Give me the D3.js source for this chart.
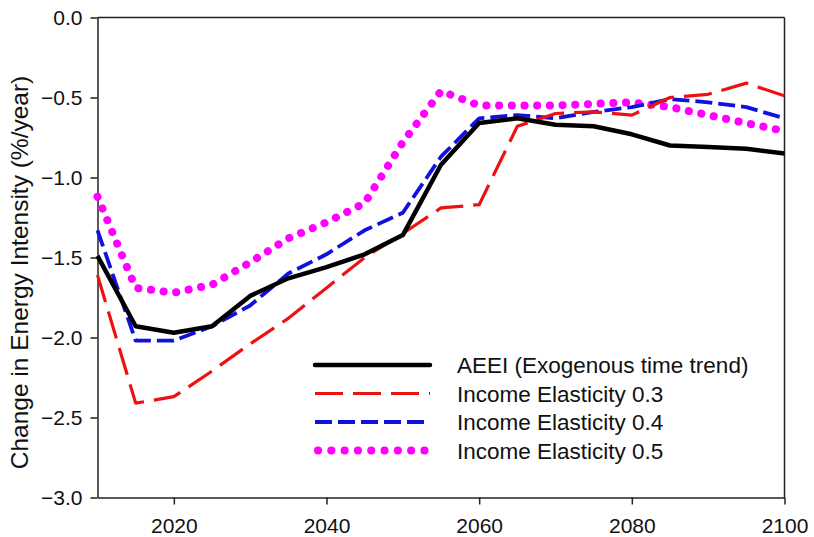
<!DOCTYPE html>
<html>
<head>
<meta charset="utf-8">
<script src="https://cdn.jsdelivr.net/npm/d3@7"></script>
<style>
  html, body { margin: 0; padding: 0; background: #fff; }
  svg { display: block; font-family: "Liberation Sans", Arial, Helvetica, sans-serif; }
</style>
</head>
<body>
<svg id="chart" width="814" height="537"></svg>
<script>
const years = [2010, 2015, 2020, 2025, 2030, 2035, 2040, 2045, 2050, 2055, 2060, 2065, 2070, 2075, 2080, 2085, 2090, 2095, 2100];
const aeei  = [-1.49, -1.93, -1.97, -1.93, -1.74, -1.63, -1.56, -1.48, -1.36, -0.92, -0.66, -0.63, -0.67, -0.68, -0.73, -0.80, -0.81, -0.82, -0.85];
const ie03  = [-1.61, -2.41, -2.37, -2.21, -2.04, -1.88, -1.69, -1.50, -1.35, -1.19, -1.17, -0.68, -0.60, -0.59, -0.61, -0.50, -0.48, -0.41, -0.49];
const ie04  = [-1.33, -2.02, -2.02, -1.93, -1.80, -1.60, -1.48, -1.33, -1.22, -0.87, -0.63, -0.61, -0.63, -0.59, -0.56, -0.51, -0.53, -0.56, -0.63];
const ie05  = [-1.12, -1.69, -1.72, -1.67, -1.53, -1.38, -1.28, -1.16, -0.78, -0.46, -0.55, -0.55, -0.55, -0.54, -0.53, -0.56, -0.61, -0.66, -0.71];
const xTicks = [2020, 2040, 2060, 2080, 2100];
const yTicks = [0.0, -0.5, -1.0, -1.5, -2.0, -2.5, -3.0];
const seriesNames = ["AEEI (Exogenous time trend)", "Income Elasticity 0.3", "Income Elasticity 0.4", "Income Elasticity 0.5"];
const yTitle = "Change in Energy Intensity (%/year)";

const styles = [
  { color: "#000000", width: 4.5, dash: null, cap: "butt" },
  { color: "#ee1111", width: 3.2, dash: "28 10", cap: "butt" },
  { color: "#1111dd", width: 3.8, dash: "17 6", cap: "butt" },
  { color: "#ff00ff", width: 8, dash: "0.1 12.6", cap: "round" }
];
const seriesData = [aeei, ie03, ie04, ie05];

const svg = d3.select("#chart");
const L = 97.5, R = 784.5, T = 17.5, B = 497.5;
const x = d3.scaleLinear().domain([2010, 2100]).range([L, R]);
const y = d3.scaleLinear().domain([-3, 0]).range([B, T]);

// frame
svg.append("line").attr("x1", L).attr("x2", R).attr("y1", T).attr("y2", T).attr("stroke", "#222").attr("stroke-width", 1.5);
svg.append("line").attr("x1", R).attr("x2", R).attr("y1", T).attr("y2", B).attr("stroke", "#222").attr("stroke-width", 1.5);

const xAxis = svg.append("g").attr("transform", `translate(0,${B})`)
  .call(d3.axisBottom(x).tickValues(xTicks).tickFormat(d3.format("d")).tickSize(7).tickSizeOuter(0));
const yAxis = svg.append("g").attr("transform", `translate(${L},0)`)
  .call(d3.axisLeft(y).tickValues(yTicks).tickFormat(d3.format(".1f")).tickSize(7).tickSizeOuter(0));
[xAxis, yAxis].forEach(g => {
  g.select(".domain").attr("stroke", "#222").attr("stroke-width", 1.5);
  g.selectAll(".tick line").attr("stroke", "#222").attr("stroke-width", 1.5);
  g.selectAll(".tick text").attr("fill", "#111").style("font-size", "21px")
   .style("font-family", "'Liberation Sans', Arial, sans-serif");
});
xAxis.selectAll(".tick text").attr("dy", null).attr("y", 35);
yAxis.selectAll(".tick text").attr("x", -15).attr("dy", "0.33em");

svg.append("text")
  .attr("transform", `translate(28,${(T + B) / 2 + 15}) rotate(-90)`)
  .attr("text-anchor", "middle")
  .style("font-size", "24.5px").attr("fill", "#111")
  .text(yTitle);

const line = d3.line().x((d, i) => x(years[i])).y(d => y(d));
const plot = svg.append("g");
[3, 2, 1, 0].forEach(k => {
  const s = styles[k];
  plot.append("path").datum(seriesData[k])
    .attr("d", line).attr("fill", "none")
    .attr("stroke", s.color).attr("stroke-width", s.width)
    .attr("stroke-dasharray", s.dash).attr("stroke-linecap", s.cap)
    .attr("stroke-linejoin", "round");
});

// legend
const lg = svg.append("g");
seriesNames.forEach((name, i) => {
  const s = styles[i];
  const yy = 365 + i * 28.5;
  lg.append("line").attr("x1", s.cap === "round" ? 318 : 315).attr("x2", 430)
    .attr("y1", yy).attr("y2", yy)
    .attr("stroke", s.color).attr("stroke-width", s.width)
    .attr("stroke-dasharray", i === 3 ? "0.1 13.2" : s.dash).attr("stroke-linecap", i === 0 ? "round" : s.cap);
  lg.append("text").attr("x", 457).attr("y", yy).attr("dy", "0.36em")
    .style("font-size", "22.5px").attr("fill", "#111").text(name);
});
</script>
</body>
</html>
